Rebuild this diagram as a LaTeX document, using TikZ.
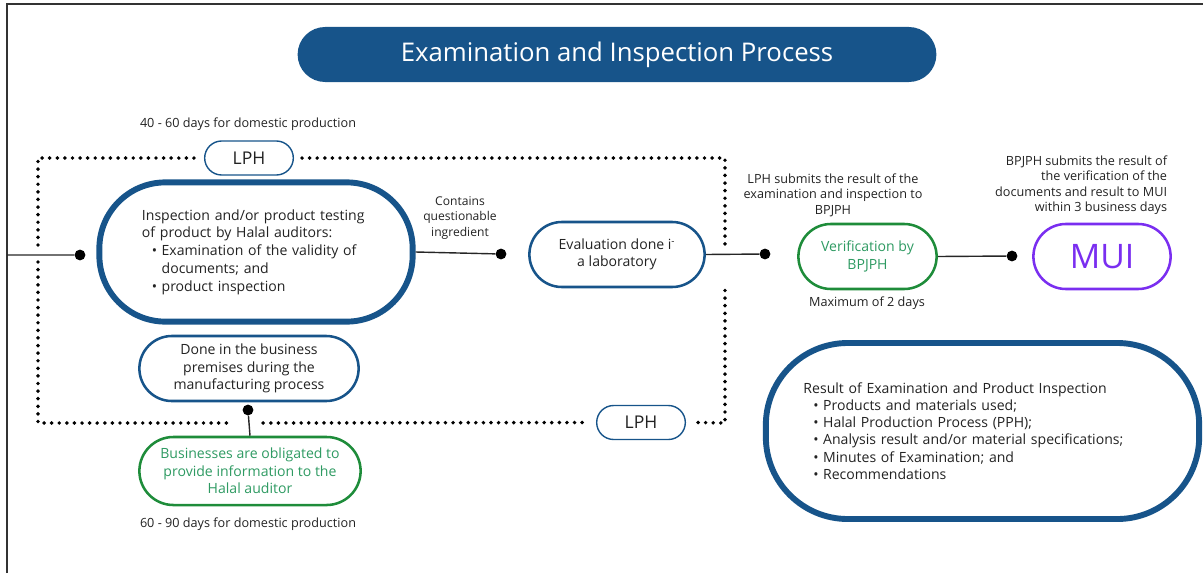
\documentclass[tikz,border=0pt]{standalone}
\usepackage{fontspec}
\setmainfont{Open Sans}
\usepackage{xcolor}
\usetikzlibrary{positioning,shapes.misc}

\definecolor{navy}{HTML}{17548A}
\definecolor{leaf}{HTML}{1E8C3A}
\definecolor{leaftext}{HTML}{2E9A62}
\definecolor{muipurple}{HTML}{7A2EF0}
\definecolor{ink}{HTML}{222222}

\newcommand{\itm}{\hspace*{7pt}\makebox[7pt][l]{\textbullet}}
\newcommand{\ind}{\hspace*{14pt}}

\begin{document}
\begin{tikzpicture}[x=0.025cm, y=-0.025cm, text=ink,
  pill/.style={rounded rectangle, draw=navy, line width=1.8pt, align=center, inner sep=1pt,
    minimum height=1.625cm, font=\fontsize{10}{12.5}\selectfont},
  lphpill/.style={rounded rectangle, draw=navy, line width=1pt, minimum width=2.45cm,
    minimum height=0.85cm, font=\fontsize{12.5}{14}\selectfont},
  bigbox/.style={rectangle, draw=navy, line width=4.2pt, align=left},
  note/.style={align=center, font=\fontsize{9}{11}\selectfont},
  dot/.style={circle, fill=black, inner sep=0pt, minimum size=0.27cm},
  link/.style={line width=1pt, black!85},
  dotline/.style={line width=2.8pt, line cap=round, dash pattern=on 0pt off 5.4pt, black}]
  \useasboundingbox (0,0) rectangle (1203,573);

  % frame
  \draw[black!80, line width=1.4pt] (7,573) -- (7,4) -- (1203,4);

  % title
  \node[rounded rectangle, fill=navy, text=white, minimum width=16.2cm, minimum height=1.375cm,
    font=\fontsize{18.3}{21}\selectfont] (title) at (617,54.5) {Examination and Inspection Process};

  % left block
  \node[note] (days1) at (248,124) {40 - 60 days for domestic production};
  \node[lphpill] (lphtop) at (249,158) {LPH};
  \node[bigbox, rounded corners=1.65cm, minimum width=7.83cm, minimum height=3.48cm,
    text width=5.7cm, font=\fontsize{10}{12.6}\selectfont] (insp) at (256,252) {%
    Inspection and/or product testing\\
    of product by Halal auditors:\\
    \itm Examination of the validity of\\
    \ind documents; and\\
    \itm product inspection\\[6pt]};
  \node[pill, minimum width=5.55cm] (done) at (249,368.5)
    {Done in the business\\ premises during the\\ manufacturing process};
  \node[dot] (d5) at (248,410) {};
  \node[pill, draw=leaf, text=leaftext, minimum width=5.6cm, minimum height=1.7cm] (oblig) at (250,471)
    {Businesses are obligated to\\ provide information to the\\ Halal auditor};
  \node[note] (days2) at (248,524) {60 - 90 days for domestic production};
  \node[lphpill] (lphbot) at (641,422.5) {LPH};

  \coordinate (frame) at (7,255);
  \node[dot] (d1) at (80,255) {};

  % middle
  \node[note, font=\fontsize{8.6}{11.2}\selectfont] (quest) at (460,218) {Contains\\ questionable\\ ingredient};
  \node[dot] (d2) at (501,254) {};
  \node[pill, minimum width=4.45cm] (eval) at (617,254.5) {Evaluation done i\textsuperscript{-}\\ a laboratory};
  \node[dot] (d3) at (765,254) {};

  % right
  \node[note] (submit1) at (833,195) {LPH submits the result of the\\ examination and inspection to\\ BPJPH};
  \node[pill, draw=leaf, text=leaftext, minimum width=3.525cm] (verif) at (867.5,256.5) {Verification by\\ BPJPH};
  \node[note] (maxdays) at (867,303) {Maximum of 2 days};
  \node[dot] (d4) at (1012,256) {};
  \node[note, align=right, anchor=east] (submit2) at (1172,185)
    {BPJPH submits the result of\\ the verification of the\\ documents and result to MUI\\ within 3 business days};
  \node[pill, draw=muipurple, text=muipurple, minimum width=3.5cm,
    font=\fontsize{24}{28}\selectfont] (mui) at (1102,256.5) {MUI};

  \node[bigbox, rounded corners=2.05cm, minimum width=10.83cm, minimum height=4.4cm,
    text width=8.95cm, font=\fontsize{10}{12.3}\selectfont] (result) at (982.5,431) {%
    Result of Examination and Product Inspection\\
    \itm Products and materials used;\\
    \itm Halal Production Process (PPH);\\
    \itm Analysis result and/or material specifications;\\
    \itm Minutes of Examination; and\\
    \itm Recommendations};

  % connectors
  \draw[link] (frame) -- (d1)
    (insp.east) -- (d2)
    (eval.east) -- (d3)
    (verif.east) -- (d4)
    (d5) -- (oblig.north);

  % dotted frame
  \coordinate (nw) at (38,158);
  \coordinate (ne) at (725,158);
  \coordinate (se) at (725,423);
  \coordinate (sw) at (38,423);
  \draw[dotline] ([xshift=-0.25cm]lphtop.west) -- (nw) -- (38,248);
  \draw[dotline] ([xshift=0.2cm]lphtop.east) -- (ne) -- (725,247);
  \draw[dotline] (38,262) -- (sw) -- ([xshift=-0.38cm]d5 |- sw);
  \draw[dotline] ([xshift=0.38cm]d5 |- sw) -- ([xshift=-0.2cm]lphbot.west);
  \draw[dotline] ([xshift=0.3cm]lphbot.east) -- (se) -- (725,286);
\end{tikzpicture}
\end{document}
